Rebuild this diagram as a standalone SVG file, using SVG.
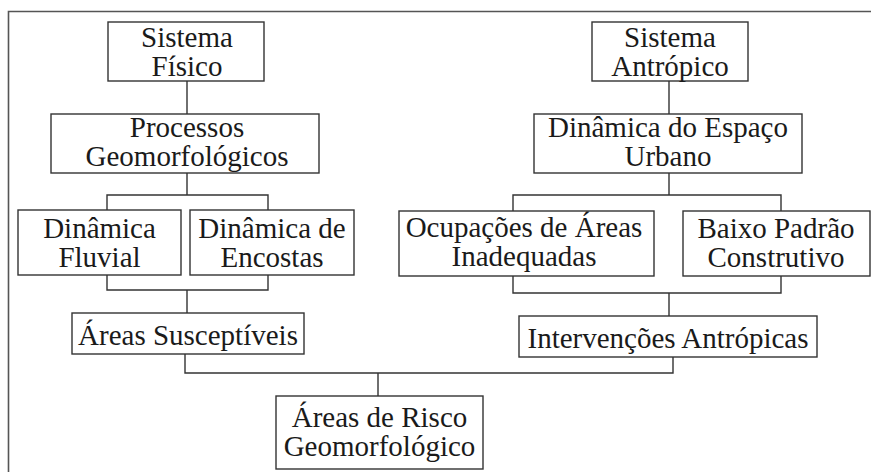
<svg xmlns="http://www.w3.org/2000/svg" width="871" height="472" viewBox="0 0 871 472">
<style>
.box{fill:#fff;stroke:#333;stroke-width:1.4}
.t{font-family:"Liberation Serif","Times New Roman",serif;font-size:29px;fill:#1a1a1a;text-anchor:middle}
.c{fill:none;stroke:#333;stroke-width:1.4}
.frame{fill:none;stroke:#555;stroke-width:1.6}
</style>
<rect width="871" height="472" fill="#fff"/>
<path class="frame" d="M8.5,472 V11.5 H871"/>
<g id="connectors">
<path class="c" d="M187,81 V114"/>
<path class="c" d="M187,173 V195 M107,210 V195 H268 V210"/>
<path class="c" d="M107,275 V290 H268 V275 M187,290 V313"/>
<path class="c" d="M185,354 V373 H673 V357 M378,373 V396"/>
<path class="c" d="M669,81 V114"/>
<path class="c" d="M669,173 V195 M513,211 V195 H781 V211"/>
<path class="c" d="M513,276 V293 H781 V276 M669,293 V316"/>
</g>
<g id="sistema-fisico">
<rect class="box" x="108" y="22" width="156" height="59"/>
<text class="t" x="187" y="47">Sistema</text>
<text class="t" x="187" y="76">Físico</text>
</g>
<g id="processos">
<rect class="box" x="51" y="114" width="268" height="59"/>
<text class="t" x="187" y="137">Processos</text>
<text class="t" x="187" y="166">Geomorfológicos</text>
</g>
<g id="dinamica-fluvial">
<rect class="box" x="18" y="210" width="163" height="65"/>
<text class="t" x="99.5" y="238">Dinâmica</text>
<text class="t" x="99.5" y="267">Fluvial</text>
</g>
<g id="dinamica-encostas">
<rect class="box" x="190" y="210" width="164" height="65"/>
<text class="t" x="272" y="238">Dinâmica de</text>
<text class="t" x="272" y="267">Encostas</text>
</g>
<g id="areas-susceptiveis">
<rect class="box" x="72" y="313" width="232" height="41"/>
<text class="t" x="188" y="345">Áreas Susceptíveis</text>
</g>
<g id="areas-risco">
<rect class="box" x="276" y="396" width="207" height="73"/>
<text class="t" x="379.5" y="427">Áreas de Risco</text>
<text class="t" x="379.5" y="456">Geomorfológico</text>
</g>
<g id="sistema-antropico">
<rect class="box" x="592" y="22" width="156" height="59"/>
<text class="t" x="670" y="47">Sistema</text>
<text class="t" x="670" y="76">Antrópico</text>
</g>
<g id="dinamica-espaco">
<rect class="box" x="534" y="114" width="268" height="59"/>
<text class="t" x="668" y="137">Dinâmica do Espaço</text>
<text class="t" x="668" y="166">Urbano</text>
</g>
<g id="ocupacoes">
<rect class="box" x="399" y="211" width="255" height="65"/>
<text class="t" x="524" y="237">Ocupações de Áreas</text>
<text class="t" x="524" y="266">Inadequadas</text>
</g>
<g id="baixo-padrao">
<rect class="box" x="683" y="211" width="187" height="65"/>
<text class="t" x="776" y="238">Baixo Padrão</text>
<text class="t" x="776" y="267">Construtivo</text>
</g>
<g id="intervencoes">
<rect class="box" x="519" y="316" width="298" height="41"/>
<text class="t" x="668" y="348">Intervenções Antrópicas</text>
</g>
</svg>
